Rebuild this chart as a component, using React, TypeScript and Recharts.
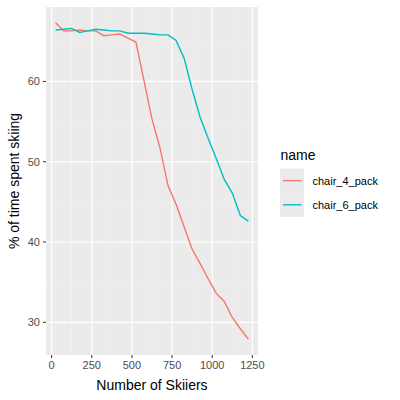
import React from 'react';
import { LineChart, Line, XAxis, YAxis, CartesianGrid, Label } from 'recharts';

const skiers = [25, 75, 125, 175, 225, 275, 325, 375, 425, 475, 525, 575, 625, 675, 725, 775, 825, 875, 925, 975, 1025, 1075, 1125, 1175, 1225];
const chair4Pack = [67.3, 66.3, 66.3, 66.4, 66.3, 66.3, 65.7, 65.8, 65.9, 65.4, 64.9, 60.1, 55.3, 51.7, 47.0, 44.7, 41.9, 39.1, 37.3, 35.4, 33.6, 32.6, 30.6, 29.2, 27.9];
const chair6Pack = [66.4, 66.5, 66.6, 66.1, 66.3, 66.5, 66.4, 66.3, 66.3, 66.0, 66.0, 66.0, 65.9, 65.8, 65.8, 65.1, 62.9, 59.0, 55.5, 52.9, 50.4, 47.8, 46.1, 43.3, 42.6];
const seriesNames = ['chair_4_pack', 'chair_6_pack'];
const seriesColors = ['#F8766D', '#00BFC4'];
const xTicks = [0, 250, 500, 750, 1000, 1250];
const yTicks = [30, 40, 50, 60];
const xMinor = [125, 375, 625, 875, 1125];
const yMinor = [35, 45, 55, 65];

const data = skiers.map((s, i) => ({
  skiers: s,
  [seriesNames[0]]: chair4Pack[i],
  [seriesNames[1]]: chair6Pack[i],
}));

const FONT = '"Liberation Sans", Arial, Helvetica, sans-serif';

const YTitle = (props: any) => {
  const vb = props.viewBox || { x: 0, y: 7, width: 46, height: 348 };
  const cx = 19;
  const cy = vb.y + vb.height / 2;
  return (
    <text x={cx} y={cy} transform={`rotate(-90, ${cx}, ${cy})`} textAnchor="middle" fontSize={14} fill="#000" fontFamily={FONT}>
      % of time spent skiing
    </text>
  );
};

const XTitle = (props: any) => {
  const vb = props.viewBox || { x: 46, y: 355, width: 212, height: 45 };
  return (
    <text x={vb.x + vb.width / 2} y={390} textAnchor="middle" fontSize={14} fill="#000" fontFamily={FONT}>
      Number of Skiiers
    </text>
  );
};

export default function App() {
  return (
    <div style={{ position: 'absolute', left: 0, top: 0, width: 400, height: 400, fontFamily: FONT, background: '#fff' }}>
      <LineChart width={400} height={400} data={data} margin={{ top: 7, right: 142, bottom: 0, left: 0 }}>
        <CartesianGrid fill="#EBEBEB" stroke="#F5F5F5" strokeWidth={0.6} verticalValues={xMinor} horizontalValues={yMinor} />
        <CartesianGrid fill="none" stroke="#FFFFFF" strokeWidth={1.2} verticalValues={xTicks} horizontalValues={yTicks} />
        <XAxis
          type="number"
          dataKey="skiers"
          domain={[-35, 1285]}
          allowDataOverflow
          ticks={xTicks}
          height={45}
          tickSize={3}
          tickMargin={3}
          axisLine={false}
          tickLine={{ stroke: '#333333', strokeWidth: 1 }}
          tick={{ fill: '#4D4D4D', fontSize: 11, fontFamily: FONT }}
        >
          <Label content={<XTitle />} />
        </XAxis>
        <YAxis
          type="number"
          domain={[25.93, 69.27]}
          allowDataOverflow
          ticks={yTicks}
          width={46}
          tickSize={3}
          tickMargin={3}
          axisLine={false}
          tickLine={{ stroke: '#333333', strokeWidth: 1 }}
          tick={{ fill: '#4D4D4D', fontSize: 11, fontFamily: FONT }}
        >
          <Label content={<YTitle />} />
        </YAxis>
        {seriesNames.map((n, i) => (
          <Line key={n} type="linear" dataKey={n} stroke={seriesColors[i]} strokeWidth={1.4} dot={false} activeDot={false} isAnimationActive={false} />
        ))}
      </LineChart>
      <svg width={400} height={400} style={{ position: 'absolute', left: 0, top: 0, pointerEvents: 'none' }}>
        <text x={280.5} y={160} fontSize={14} fill="#000" fontFamily={FONT}>name</text>
        {seriesNames.map((n, i) => (
          <g key={n}>
            <rect x={280} y={168.5 + i * 24.2} width={24} height={24.2} fill="#EBEBEB" />
            <line x1={283} x2={301.5} y1={180.6 + i * 24.2} y2={180.6 + i * 24.2} stroke={seriesColors[i]} strokeWidth={1.4} />
            <text x={312.5} y={184.6 + i * 24.2} fontSize={11} fill="#000" fontFamily={FONT}>{n}</text>
          </g>
        ))}
      </svg>
    </div>
  );
}
